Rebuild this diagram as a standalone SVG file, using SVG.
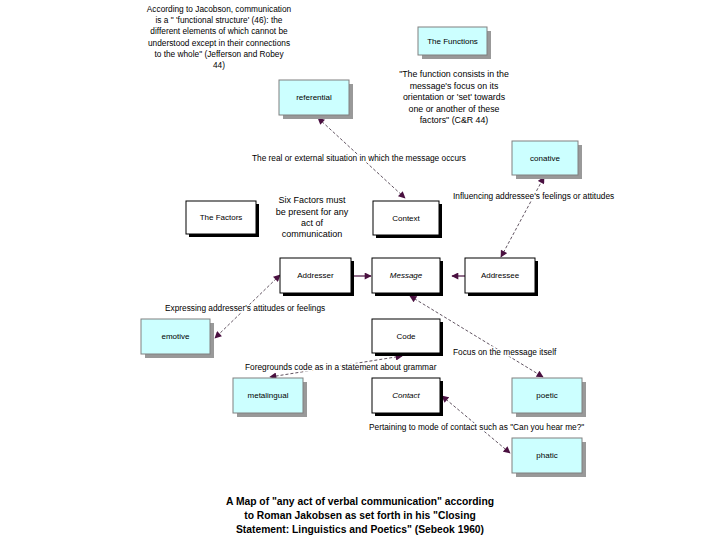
<svg xmlns="http://www.w3.org/2000/svg" width="720" height="540" viewBox="0 0 720 540">
<defs>
<marker id="ah" viewBox="0 0 10 10" refX="9" refY="5" markerWidth="9" markerHeight="7" markerUnits="userSpaceOnUse" orient="auto-start-reverse">
<path d="M0,0 L10,5 L0,10 Z" fill="#4a1040"/>
</marker>
</defs>
<style>
text{font-family:"Liberation Sans",Arial,sans-serif;fill:#000}
.n{font-size:8px;text-anchor:middle}
.it{font-style:italic}
.lbl{font-size:8.3px;paint-order:stroke;stroke:#fff;stroke-width:3px}
.para{font-size:8.3px;text-anchor:middle}
.q{font-size:8.8px}
.six{font-size:9px}
.title{font-size:10.3px;font-weight:bold;text-anchor:middle}
.wb{fill:#fff;stroke:#000;stroke-width:1}
.ws{fill:#000}
.cb{fill:#ccffff;stroke:#808080;stroke-width:1}
.cs{fill:#999}
.c{fill:none;stroke:#3a2a3a;stroke-width:0.8;stroke-dasharray:3,2;marker-start:url(#ah);marker-end:url(#ah)}
.s{fill:none;stroke:#4a1040;stroke-width:1.2;marker-end:url(#ah)}
</style>
<rect width="720" height="540" fill="#fff"/>

<text class="para"><tspan x="219" y="12">According to Jacobson, communication</tspan><tspan x="219" y="23">is a " 'functional structure' (46): the</tspan><tspan x="219" y="34">different elements of which cannot be</tspan><tspan x="219" y="46">understood except in their connections</tspan><tspan x="219" y="57">to the whole" (Jefferson and Robey</tspan><tspan x="219" y="68">44)</tspan></text>

<text class="para q"><tspan x="454" y="77">"The function consists in the</tspan><tspan x="454" y="89">message's focus on its</tspan><tspan x="454" y="100">orientation or 'set' towards</tspan><tspan x="454" y="112">one or another of these</tspan><tspan x="454" y="123">factors" (C&amp;R 44)</tspan></text>

<text class="para six"><tspan x="312" y="203">Six Factors must</tspan><tspan x="312" y="215">be present for any</tspan><tspan x="312" y="226">act of</tspan><tspan x="312" y="237">communication</tspan></text>

<g id="connectors">
<line class="c" x1="405" y1="198" x2="318" y2="118"/>
<line class="c" x1="501" y1="257" x2="544" y2="177"/>
<line class="c" x1="280" y1="275" x2="215" y2="338"/>
<line class="s" x1="352" y1="276" x2="371" y2="276"/>
<line class="s" x1="465" y1="276" x2="452" y2="276"/>
<line class="c" x1="410" y1="296" x2="543" y2="377"/>
<line class="c" x1="402" y1="356" x2="270" y2="377"/>
<line class="c" x1="442" y1="396" x2="510" y2="453"/>
</g>

<text class="lbl" x="252" y="161">The real or external situation in which the message occurs</text>
<text class="lbl" x="453" y="199">Influencing addressee's feelings or attitudes</text>
<text class="lbl" x="165" y="311">Expressing addresser's attitudes or feelings</text>
<text class="lbl" x="453" y="355">Focus on the message itself</text>
<text class="lbl" x="245" y="370">Foregrounds code as in a statement about grammar</text>
<text class="lbl" x="369" y="430">Pertaining to mode of contact such as "Can you hear me?"</text>

<g id="functions"><rect class="cs" x="422" y="31" width="69" height="28"/><rect class="cb" x="418" y="27" width="69" height="28"/><text class="n" x="452.5" y="44">The Functions</text></g>
<g id="referential"><rect class="cs" x="283" y="84" width="70" height="35"/><rect class="cb" x="279" y="80" width="70" height="35"/><text class="n" x="314" y="100">referential</text></g>
<g id="conative"><rect class="cs" x="516" y="145" width="66" height="34"/><rect class="cb" x="512" y="141" width="66" height="34"/><text class="n" x="545" y="161">conative</text></g>
<g id="emotive"><rect class="cs" x="145" y="323" width="69" height="35"/><rect class="cb" x="141" y="319" width="69" height="35"/><text class="n" x="175.5" y="339">emotive</text></g>
<g id="metalingual"><rect class="cs" x="237" y="382" width="70" height="35"/><rect class="cb" x="233" y="378" width="70" height="35"/><text class="n" x="268" y="398">metalingual</text></g>
<g id="poetic"><rect class="cs" x="516" y="382" width="70" height="35"/><rect class="cb" x="512" y="378" width="70" height="35"/><text class="n" x="547" y="398">poetic</text></g>
<g id="phatic"><rect class="cs" x="516" y="442" width="70" height="35"/><rect class="cb" x="512" y="438" width="70" height="35"/><text class="n" x="547" y="458">phatic</text></g>

<g id="factors"><rect class="ws" x="189" y="204" width="70" height="33"/><rect class="wb" x="186" y="201" width="70" height="33"/><text class="n" x="221" y="220">The Factors</text></g>
<g id="context"><rect class="ws" x="376" y="204" width="66" height="34"/><rect class="wb" x="373" y="201" width="66" height="34"/><text class="n" x="406" y="221">Context</text></g>
<g id="addresser"><rect class="ws" x="283" y="261" width="71" height="35"/><rect class="wb" x="280" y="258" width="71" height="35"/><text class="n" x="315.5" y="278">Addresser</text></g>
<g id="message"><rect class="ws" x="375" y="261" width="68" height="35"/><rect class="wb" x="372" y="258" width="68" height="35"/><text class="n it" x="406" y="278">Message</text></g>
<g id="addressee"><rect class="ws" x="468" y="261" width="70" height="35"/><rect class="wb" x="465" y="258" width="70" height="35"/><text class="n" x="500" y="278">Addressee</text></g>
<g id="code"><rect class="ws" x="375" y="322" width="68" height="34"/><rect class="wb" x="372" y="319" width="68" height="34"/><text class="n" x="406" y="339">Code</text></g>
<g id="contact"><rect class="ws" x="375" y="381" width="68" height="35"/><rect class="wb" x="372" y="378" width="68" height="35"/><text class="n it" x="406" y="398">Contact</text></g>

<text class="title"><tspan x="360" y="505">A Map of "any act of verbal communication" according</tspan><tspan x="360" y="519">to Roman Jakobsen as set forth in his "Closing</tspan><tspan x="360" y="533">Statement: Linguistics and Poetics" (Sebeok 1960)</tspan></text>
</svg>
